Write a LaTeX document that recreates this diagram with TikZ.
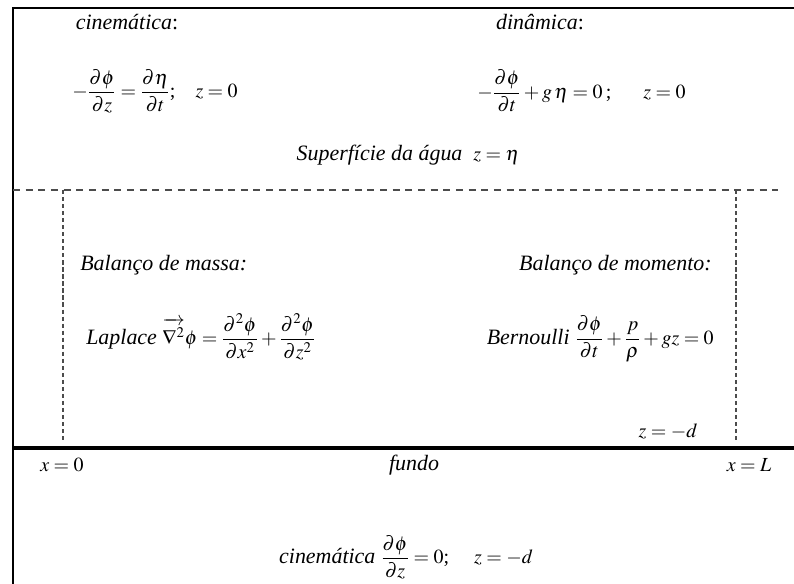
\documentclass[tikz,border=0pt]{standalone}
\usepackage{mathptmx}
\usepackage{fontspec}
\setmainfont{Liberation Serif}
\usepackage{amsmath}
\newcommand{\eqsz}{\fontsize{14.2}{17}\selectfont}
\tikzset{
  lbl/.style={font=\fontsize{15.6}{18}\selectfont, inner sep=0pt},
  wall/.style={line width=1.4pt},
  bed/.style={line width=2.2pt},
  hguide/.style={line width=0.8pt, black!70, dash pattern=on 5pt off 4pt},
  vguide/.style={line width=0.8pt, black!70, dash pattern=on 3pt off 2pt}
}
\begin{document}
\begin{tikzpicture}[x=0.025cm, y=-0.025cm]
        \useasboundingbox (0,0) rectangle (794,584);
        % frame
        \draw[wall] (13,584) -- (13,8) -- (794,8);
        \draw[bed] (13,448) -- (794,448);

        % surface and side limits
        \draw[hguide] (13,190) -- (778,190);
        \draw[vguide] (63,190) -- (63,441);
        \draw[vguide] (736,190) -- (736,441);

        % free surface conditions
        \node[lbl] (cin) at (127,22) {\textit{cinemática}:};
        \node[lbl, anchor=west] (cineq) at (72,91) {\eqsz$-\dfrac{\partial\phi}{\partial z}=\dfrac{\partial\eta}{\partial t}$;\quad $z=0$};
        \node[lbl] (din) at (540,22) {\textit{dinâmica}:};
        \node[lbl, anchor=west] (dineq) at (477,91) {\eqsz$-\dfrac{\partial\phi}{\partial t}+g\,\eta=0$\,;\hspace{1.6em}$z=0$};
        \node[lbl] (surf) at (408,155) {\textit{Superfície da água} \ {\eqsz$z=\eta$}};

        % interior
        \node[lbl, anchor=west] (massa) at (80,265) {\textit{Balanço de massa:}};
        \node[lbl, anchor=west] (lapl) at (86,337) {\textit{Laplace} {\eqsz$\overrightarrow{\rule{0pt}{2.1ex}\nabla^{2}}\phi=\dfrac{\partial^{2}\phi}{\partial x^{2}}+\dfrac{\partial^{2}\phi}{\partial z^{2}}$}};
        \node[lbl, anchor=east] (mom) at (712,265) {\textit{Balanço de momento:}};
        \node[lbl, anchor=east] (bern) at (714,339) {\textit{Bernoulli} {\eqsz$\dfrac{\partial\phi}{\partial t}+\dfrac{p}{\rho}+gz=0$}};
        \node[lbl] (zd) at (668,431) {\eqsz$z=-d$};

        % bottom
        \node[lbl] (x0) at (62,465) {\eqsz$x=0$};
        \node[lbl] (fundo) at (414,465) {\textit{fundo}};
        \node[lbl] (xL) at (749,465) {\eqsz$x=L$};
        \node[lbl] (fundoeq) at (406,557) {\textit{cinemática} {\eqsz$\dfrac{\partial\phi}{\partial z}=0$;\quad\ $z=-d$}};
    \end{tikzpicture}
\end{document}
